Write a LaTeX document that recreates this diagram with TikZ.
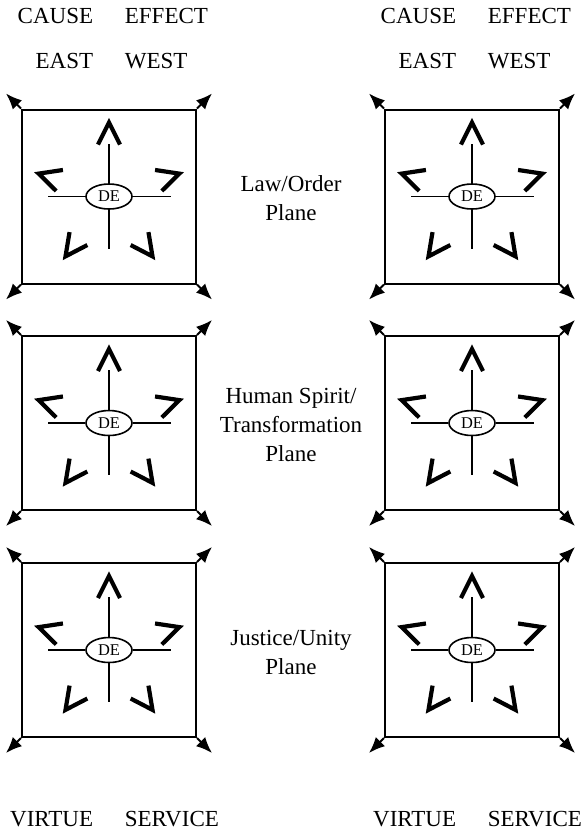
\documentclass[tikz,border=0pt]{standalone}
\usepackage{fontspec}
\setmainfont{Liberation Serif}
\usetikzlibrary{shapes}
\usetikzlibrary{positioning}
\usetikzlibrary{arrows.meta}
\tikzset{
    planebox/.style = {rectangle, draw=black, line width=1pt, minimum size=87pt, inner sep=0pt},
    planeouter/.style = {rectangle, minimum size=103pt, inner sep=0pt, outer sep=0pt},
    denode/.style = {ellipse, draw=black, line width=0.8pt, fill=white, inner sep=0pt, minimum width=23pt, minimum height=12.5pt, font=\fontsize{8.2}{9}\selectfont},
    spoke/.style = {-, line width=0.85pt, black},
    chevron/.style = {-, line width=2.1pt, black},
    cornerarrow/.style = {-{Latex[length=8pt,width=6.5pt]}, line width=1pt, black},
    toplabel/.style = {font=\fontsize{11.5}{14.5}\selectfont, inner sep=0pt},
    planelabel/.style = {align=center, font=\fontsize{11.5}{14.5}\selectfont, inner sep=0pt}
}
\begin{document}
\begin{tikzpicture}[x=0.5pt,y=0.5pt]
\path[use as bounding box] (0,0) rectangle (585,-832);

% the six planes
\foreach \col/\cx in {l/109, r/472}{
  \foreach \row/\cy in {1/-196.5, 2/-423, 3/-650}{
    \node[planebox] (sq-\col\row) at (\cx,\cy) {};
    \node[planeouter] (out-\col\row) at (\cx,\cy) {};
    \draw[cornerarrow] (sq-\col\row.north west) -- (out-\col\row.north west);
    \draw[cornerarrow] (sq-\col\row.north east) -- (out-\col\row.north east);
    \draw[cornerarrow] (sq-\col\row.south west) -- (out-\col\row.south west);
    \draw[cornerarrow] (sq-\col\row.south east) -- (out-\col\row.south east);
    %
    \coordinate (n-\col\row) at (\cx,\cy+53);
    \coordinate (s-\col\row) at (\cx,\cy-52);
    \coordinate (w-\col\row) at (\cx-61,\cy);
    \coordinate (e-\col\row) at (\cx+62,\cy);
    \node[denode] (de-\col\row) at (\cx,\cy) {DE};
    \draw[spoke] (de-\col\row) -- (n-\col\row);
    \draw[spoke] (de-\col\row) -- (s-\col\row);
    \draw[spoke] (de-\col\row) -- (w-\col\row);
    \draw[spoke] (de-\col\row) -- (e-\col\row);
    %
    \foreach \r in {0,72,144,216,288}
      \draw[chevron, shift={(\cx,\cy)}, rotate=\r] (-11,52) -- (0,74) -- (11,52);
  }
  %
  \node[toplabel, anchor=base east] (cause-\col) at (\cx-15.5,-23) {CAUSE};
  \node[toplabel, anchor=base west] (effect-\col) at (\cx+15.5,-23) {EFFECT};
  \node[toplabel, anchor=base east] (east-\col) at (\cx-15.5,-68) {EAST};
  \node[toplabel, anchor=base west] (west-\col) at (\cx+15.5,-68) {WEST};
  \node[toplabel, anchor=base east] (virtue-\col) at (\cx-15.5,-826) {VIRTUE};
  \node[toplabel, anchor=base west] (service-\col) at (\cx+15.5,-826) {SERVICE};
}

\node[planelabel] (law) at (291,-198) {Law/Order\\Plane};
\node[planelabel] (human) at (291,-425) {Human Spirit/\\Transformation\\Plane};
\node[planelabel] (justice) at (291,-652) {Justice/Unity\\Plane};

\end{tikzpicture}
\end{document}
